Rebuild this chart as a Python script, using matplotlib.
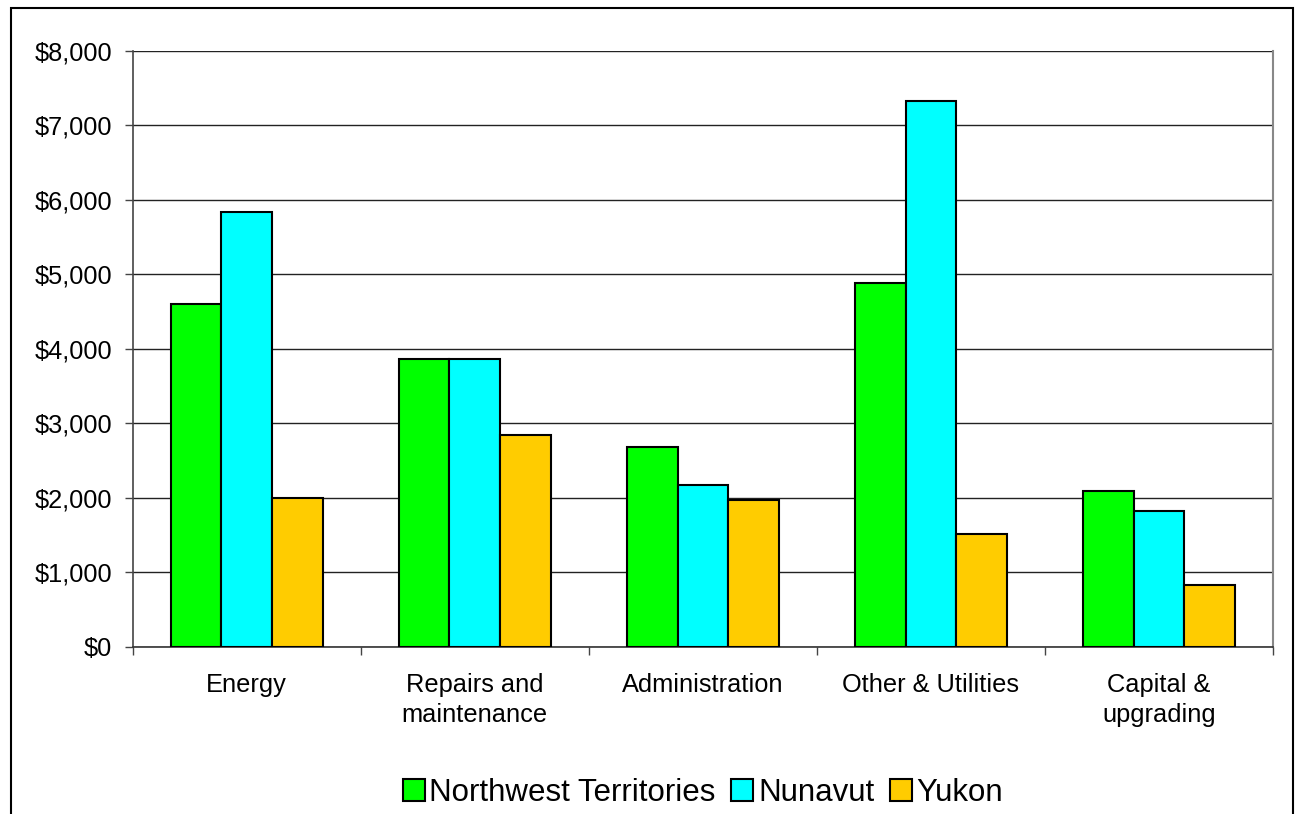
import matplotlib
matplotlib.use("Agg")
import matplotlib.pyplot as plt
import matplotlib.patches as mpatches
import numpy as np

categories = ["Energy", "Repairs and\nmaintenance", "Administration",
              "Other & Utilities", "Capital &\nupgrading"]
series_names = ["Northwest Territories", "Nunavut", "Yukon"]
nwt = [4600, 3860, 2685, 4880, 2095]
nunavut = [5830, 3860, 2175, 7330, 1820]
yukon = [1990, 2845, 1965, 1510, 830]
colors = ["#00FF00", "#00FFFF", "#FFCC00"]
yticks = [0, 1000, 2000, 3000, 4000, 5000, 6000, 7000, 8000]
ytick_labels = ["$0", "$1,000", "$2,000", "$3,000", "$4,000", "$5,000",
                "$6,000", "$7,000", "$8,000"]

plt.rcParams['font.family'] = ['Liberation Sans', 'DejaVu Sans']

W, H = 1297, 814
fig = plt.figure(figsize=(W / 100, H / 100), dpi=100)
ax = fig.add_axes([132.7 / W, 1 - 646.7 / H, (1273 - 132.7) / W, (646.7 - 50.7) / H])

x = np.arange(len(categories))
bw = 0.222
for i, (vals, c, name) in enumerate(zip([nwt, nunavut, yukon], colors, series_names)):
    ax.bar(x + (i - 1) * bw, vals, width=bw, color=c, edgecolor="black",
           linewidth=1.5, label=name, zorder=3)

ax.set_xlim(-0.5, len(categories) - 0.5)
ax.set_ylim(0, 8000)
ax.set_yticks(yticks)
ax.set_yticklabels(ytick_labels, fontsize=18.3)
ax.yaxis.grid(True, color="#222222", linewidth=1.0, zorder=0)
ax.set_axisbelow(True)

ax.set_xticks(x)
ax.set_xticklabels(categories, fontsize=18.3, linespacing=1.3, va="top")
ax.set_xticks(np.arange(len(categories) + 1) - 0.5, minor=True)
ax.tick_params(axis="x", which="major", length=0, pad=19)
ax.tick_params(axis="x", which="minor", length=6, width=1, color="#444444", direction="out")
ax.tick_params(axis="y", length=6, width=1, color="#444444", direction="out", pad=9)

ax.spines["top"].set_visible(False)
ax.spines["right"].set_color("#888888")
ax.spines["right"].set_linewidth(1.5)
ax.spines["left"].set_color("#444444")
ax.spines["left"].set_linewidth(1.2)
ax.spines["bottom"].set_color("#333333")
ax.spines["bottom"].set_linewidth(1.2)

handles = [mpatches.Patch(facecolor=c, edgecolor="black", linewidth=1.5) for c in colors]
fig.legend(handles, series_names, loc="center", bbox_to_anchor=(703 / W, 1 - 793 / H),
           ncol=3, frameon=False, fontsize=22.5, handlelength=0.7, handleheight=0.7,
           handletextpad=0.15, columnspacing=0.5, borderpad=0)

# outer border of chart area
fig.add_artist(mpatches.Rectangle((11 / W, -0.1), (1293 - 11) / W, 1.1 - 8 / H,
                                  transform=fig.transFigure, fill=False,
                                  edgecolor="black", linewidth=1.5))

fig.savefig("out.png", dpi=100)
